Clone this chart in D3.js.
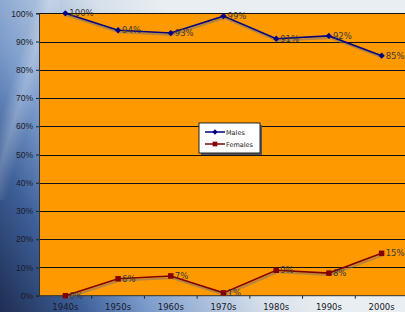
<!DOCTYPE html>
<html>
<head>
<meta charset="utf-8">
<script src="https://cdn.jsdelivr.net/npm/d3@7"></script>
<style>
  body { margin: 0; overflow: hidden; }
  svg { display: block; font-family: "DejaVu Sans", sans-serif; }
</style>
</head>
<body>
<svg id="chart" width="405" height="312"></svg>
<script>
var decades = ["1940s", "1950s", "1960s", "1970s", "1980s", "1990s", "2000s"];
var males = [100, 94, 93, 99, 91, 92, 85];
var females = [0, 6, 7, 1, 9, 8, 15];
var yTicks = [0, 10, 20, 30, 40, 50, 60, 70, 80, 90, 100];

var svg = d3.select("#chart");
var defs = svg.append("defs");

// background, a rough copy of the desktop-like blue picture
var bg = defs.append("linearGradient")
    .attr("id", "bg")
    .attr("x1", "0").attr("y1", "1").attr("x2", "0.7").attr("y2", "0.7");
bg.append("stop").attr("offset", "0").attr("stop-color", "#1f2d52");
bg.append("stop").attr("offset", "0.25").attr("stop-color", "#3d5f98");
bg.append("stop").attr("offset", "0.45").attr("stop-color", "#7c9ccc");
bg.append("stop").attr("offset", "0.8").attr("stop-color", "#d6e0ea");
bg.append("stop").attr("offset", "1").attr("stop-color", "#e9eef2");

var streak = defs.append("linearGradient")
    .attr("id", "streak")
    .attr("x1", "0").attr("y1", "0").attr("x2", "1").attr("y2", "1");
streak.append("stop").attr("offset", "0.3").attr("stop-color", "#fff").attr("stop-opacity", 0);
streak.append("stop").attr("offset", "0.42").attr("stop-color", "#fff").attr("stop-opacity", 0.22);
streak.append("stop").attr("offset", "0.55").attr("stop-color", "#fff").attr("stop-opacity", 0);

svg.append("rect").attr("width", 405).attr("height", 312).attr("fill", "url(#bg)");
svg.append("rect").attr("width", 60).attr("height", 200).attr("fill", "url(#streak)");

var plotLeft = 39, plotRight = 408, plotTop = 13.3, plotBottom = 295.7;

var x = d3.scaleBand().domain(decades).range([plotLeft, plotRight]);
var y = d3.scaleLinear().domain([0, 100]).range([plotBottom, plotTop]);
var cx = function(d) { return x(d) + x.bandwidth() / 2; };

svg.append("rect")
    .attr("x", plotLeft).attr("y", plotTop)
    .attr("width", plotRight - plotLeft).attr("height", plotBottom - plotTop)
    .attr("fill", "#ff9900");

// gridlines
svg.append("g").selectAll("line")
    .data(yTicks.filter(function(d) { return d > 0; }))
  .enter().append("line")
    .attr("x1", plotLeft).attr("x2", plotRight)
    .attr("y1", function(d) { return Math.round(y(d)) + 0.5; })
    .attr("y2", function(d) { return Math.round(y(d)) + 0.5; })
    .attr("stroke", "#111").attr("stroke-width", 1);

// y axis
var yAxis = svg.append("g")
    .attr("transform", "translate(" + plotLeft + ",0)")
    .call(d3.axisLeft(y).tickValues(yTicks).tickSize(3).tickPadding(3)
      .tickFormat(function(d) { return d + "%"; }));
yAxis.select(".domain").attr("stroke", "#333");
yAxis.selectAll(".tick line").attr("stroke", "#222");
yAxis.selectAll("text").attr("fill", "#1a1a2a").attr("font-size", 8.5);

// x axis, ticks between categories
var xAxis = svg.append("g")
    .attr("transform", "translate(0," + plotBottom + ")");
xAxis.append("line")
    .attr("x1", plotLeft - 3).attr("x2", plotRight)
    .attr("stroke", "#333");
xAxis.selectAll(".tk")
    .data(decades)
  .enter().append("line")
    .attr("x1", function(d) { return x(d) + x.bandwidth(); })
    .attr("x2", function(d) { return x(d) + x.bandwidth(); })
    .attr("y1", 0).attr("y2", 3)
    .attr("stroke", "#222");
xAxis.selectAll("text")
    .data(decades)
  .enter().append("text")
    .attr("x", cx).attr("y", 14)
    .attr("text-anchor", "middle")
    .attr("font-size", 8.5).attr("fill", "#1a1a2a")
    .text(function(d) { return d; });

// diamond as a rotated square, wider than d3.symbolDiamond
var squareSym = function(size) { return d3.symbol().type(d3.symbolSquare).size(size)(); };

function drawSeries(values, color, diamond) {
  var pts = decades.map(function(d, i) { return [cx(d), y(values[i])]; });
  var line = d3.line();
  var g = svg.append("g");

  // soft shadow under the line
  g.append("path").attr("d", line(pts.map(function(p) { return [p[0] + 1, p[1] + 2]; })))
      .attr("fill", "none").attr("stroke", "#777").attr("stroke-opacity", 0.55).attr("stroke-width", 2);
  g.append("path").attr("d", line(pts))
      .attr("fill", "none").attr("stroke", color).attr("stroke-width", 1.6);

  g.selectAll(".m")
      .data(pts)
    .enter().append("path")
      .attr("transform", function(p) {
        return "translate(" + p[0] + "," + p[1] + ")" + (diamond ? " rotate(45)" : "");
      })
      .attr("d", squareSym(diamond ? 20 : 30))
      .attr("fill", color);

  g.selectAll(".lbl")
      .data(values)
    .enter().append("text")
      .attr("x", function(v, i) { return pts[i][0] + 4; })
      .attr("y", function(v, i) { return pts[i][1] + 3; })
      .attr("font-size", 8.5).attr("fill", "#3a3a3a")
      .text(function(v) { return v + "%"; });
}

drawSeries(males, "#000080", true);
drawSeries(females, "#800000", false);

// legend
var lg = svg.append("g").attr("transform", "translate(199,123)");
lg.append("rect").attr("x", 2).attr("y", 2).attr("width", 61).attr("height", 30).attr("fill", "#555");
lg.append("rect").attr("width", 61).attr("height", 30).attr("fill", "#fff").attr("stroke", "#222");
var series = [["Males", "#000080", true], ["Females", "#800000", false]];
series.forEach(function(s, i) {
  var yy = 9 + i * 12;
  lg.append("line").attr("x1", 6).attr("x2", 26).attr("y1", yy).attr("y2", yy)
      .attr("stroke", s[1]).attr("stroke-width", 1.5);
  lg.append("path").attr("transform", "translate(16," + yy + ")" + (s[2] ? " rotate(45)" : ""))
      .attr("d", squareSym(s[2] ? 14 : 22)).attr("fill", s[1]);
  lg.append("text").attr("x", 27).attr("y", yy + 2.5)
      .attr("font-size", 6.5).attr("fill", "#222").text(s[0]);
});
</script>
</body>
</html>
